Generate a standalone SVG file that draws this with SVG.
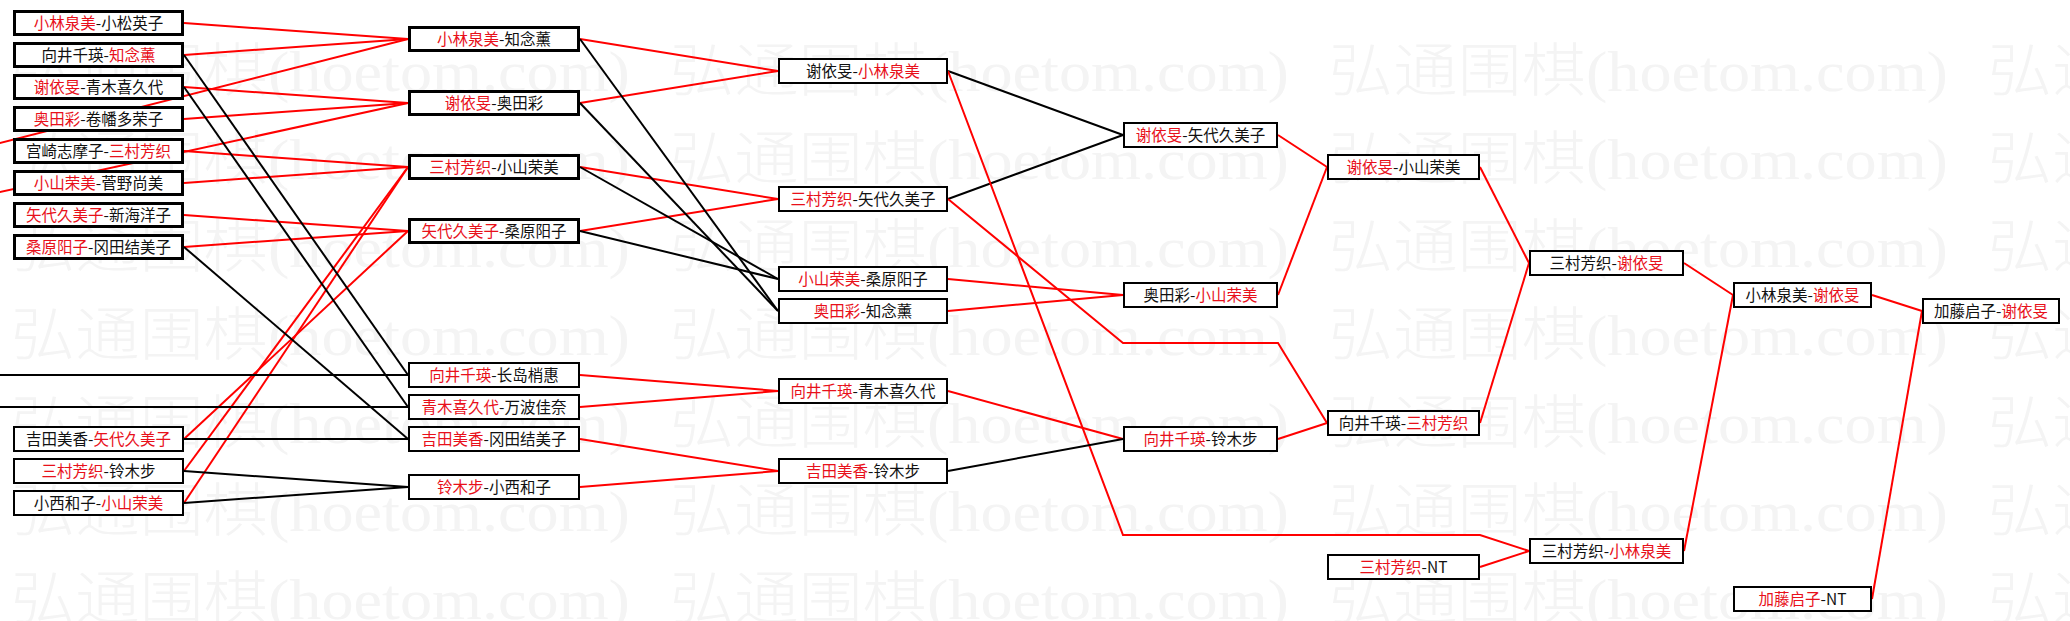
<svg xmlns="http://www.w3.org/2000/svg" xmlns:xlink="http://www.w3.org/1999/xlink" width="2070" height="621" viewBox="0 0 2070 621">
<style>
.r{stroke:#ff0000;stroke-width:2;fill:none}
.k{stroke:#000;stroke-width:2;fill:none}
.b3{fill:#fff;stroke:#000;stroke-width:3}
.b2{fill:#fff;stroke:#000;stroke-width:2}
.t{font-family:"Noto Sans CJK SC","Noto Sans CJK JP",sans-serif;font-size:15.5px;text-anchor:middle;fill:#111}
.rt{fill:#e8101a}
.wm{font-family:"Liberation Serif","Noto Sans CJK SC",serif;font-size:58px;font-weight:300;fill:#f4f4f4}
</style>
<defs>
<text id="wm" class="wm" x="0" y="0" textLength="619" lengthAdjust="spacingAndGlyphs">弘通围棋(hoetom.com)</text>
</defs>
<rect x="0" y="0" width="2070" height="621" fill="#fff"/>
<g id="watermark">
<use href="#wm" x="-648" y="91"/><use href="#wm" x="11" y="91"/><use href="#wm" x="670" y="91"/><use href="#wm" x="1329" y="91"/><use href="#wm" x="1988" y="91"/>
<use href="#wm" x="-648" y="179"/><use href="#wm" x="11" y="179"/><use href="#wm" x="670" y="179"/><use href="#wm" x="1329" y="179"/><use href="#wm" x="1988" y="179"/>
<use href="#wm" x="-648" y="267"/><use href="#wm" x="11" y="267"/><use href="#wm" x="670" y="267"/><use href="#wm" x="1329" y="267"/><use href="#wm" x="1988" y="267"/>
<use href="#wm" x="-648" y="355"/><use href="#wm" x="11" y="355"/><use href="#wm" x="670" y="355"/><use href="#wm" x="1329" y="355"/><use href="#wm" x="1988" y="355"/>
<use href="#wm" x="-648" y="443"/><use href="#wm" x="11" y="443"/><use href="#wm" x="670" y="443"/><use href="#wm" x="1329" y="443"/><use href="#wm" x="1988" y="443"/>
<use href="#wm" x="-648" y="531"/><use href="#wm" x="11" y="531"/><use href="#wm" x="670" y="531"/><use href="#wm" x="1329" y="531"/><use href="#wm" x="1988" y="531"/>
<use href="#wm" x="-648" y="619"/><use href="#wm" x="11" y="619"/><use href="#wm" x="670" y="619"/><use href="#wm" x="1329" y="619"/><use href="#wm" x="1988" y="619"/>
</g>
<g id="connectors">
<!-- col1 -> col2 -->
<line class="r" x1="184" y1="23" x2="408" y2="39"/>
<line class="r" x1="184" y1="55" x2="408" y2="39"/>
<line class="r" x1="184" y1="87" x2="408" y2="103"/>
<line class="r" x1="184" y1="119" x2="408" y2="103"/>
<line class="r" x1="184" y1="151" x2="408" y2="167"/>
<line class="r" x1="184" y1="183" x2="408" y2="167"/>
<line class="r" x1="184" y1="215" x2="408" y2="231"/>
<line class="r" x1="184" y1="247" x2="408" y2="231"/>
<line class="r" x1="-2" y1="143.5" x2="408" y2="39"/>
<line class="r" x1="-2" y1="192.5" x2="408" y2="103"/>
<line class="r" x1="184" y1="439" x2="408" y2="231"/>
<line class="r" x1="184" y1="471" x2="408" y2="167"/>
<line class="r" x1="184" y1="503" x2="408" y2="167"/>
<line class="k" x1="184" y1="55" x2="408" y2="375"/>
<line class="k" x1="184" y1="87" x2="408" y2="407"/>
<line class="k" x1="184" y1="247" x2="408" y2="439"/>
<line class="k" x1="-2" y1="375" x2="408" y2="375"/>
<line class="k" x1="-2" y1="407" x2="408" y2="407"/>
<line class="k" x1="184" y1="439" x2="408" y2="439"/>
<line class="k" x1="184" y1="471" x2="408" y2="487"/>
<line class="k" x1="184" y1="503" x2="408" y2="487"/>
<!-- col2 -> col3 -->
<line class="r" x1="580" y1="39" x2="778" y2="71"/>
<line class="r" x1="580" y1="103" x2="778" y2="71"/>
<line class="r" x1="580" y1="167" x2="778" y2="199"/>
<line class="r" x1="580" y1="231" x2="778" y2="199"/>
<line class="k" x1="580" y1="39" x2="778" y2="311"/>
<line class="k" x1="580" y1="103" x2="778" y2="311"/>
<line class="k" x1="580" y1="167" x2="778" y2="279"/>
<line class="k" x1="580" y1="231" x2="778" y2="279"/>
<line class="r" x1="580" y1="375" x2="778" y2="391"/>
<line class="r" x1="580" y1="407" x2="778" y2="391"/>
<line class="r" x1="580" y1="439" x2="778" y2="471"/>
<line class="r" x1="580" y1="487" x2="778" y2="471"/>
<!-- col3 -> col4 -->
<line class="k" x1="948" y1="71" x2="1123" y2="135"/>
<line class="k" x1="948" y1="199" x2="1123" y2="135"/>
<polyline class="r" points="948,71 1123,535 1480,535 1529,551"/>
<polyline class="r" points="948,199 1123,343 1278,343 1327,423"/>
<line class="r" x1="948" y1="279" x2="1123" y2="295"/>
<line class="r" x1="948" y1="311" x2="1123" y2="295"/>
<line class="r" x1="948" y1="391" x2="1123" y2="439"/>
<line class="k" x1="948" y1="471" x2="1123" y2="439"/>
<!-- col4 -> col5 -->
<line class="r" x1="1278" y1="135" x2="1327" y2="167"/>
<line class="r" x1="1278" y1="295" x2="1327" y2="167"/>
<line class="r" x1="1278" y1="439" x2="1327" y2="423"/>
<!-- col5 -> col6 -->
<line class="r" x1="1480" y1="167" x2="1529" y2="263"/>
<line class="r" x1="1480" y1="423" x2="1529" y2="263"/>
<line class="r" x1="1480" y1="567" x2="1529" y2="551"/>
<!-- col6 -> col7 -->
<line class="r" x1="1684" y1="263" x2="1733" y2="295"/>
<line class="r" x1="1684" y1="551" x2="1733" y2="295"/>
<!-- col7 -> col8 -->
<line class="r" x1="1872" y1="295" x2="1922" y2="311"/>
<line class="r" x1="1872" y1="599" x2="1922" y2="311"/>
</g>
<!-- column 1 -->
<g id="c1_1"><rect class="b3" x="14.5" y="11.5" width="168" height="23"/><text class="t" x="98.5" y="28.5"><tspan class="rt">小林泉美</tspan>-小松英子</text></g>
<g id="c1_2"><rect class="b3" x="14.5" y="43.5" width="168" height="23"/><text class="t" x="98.5" y="60.5">向井千瑛-<tspan class="rt">知念薰</tspan></text></g>
<g id="c1_3"><rect class="b3" x="14.5" y="75.5" width="168" height="23"/><text class="t" x="98.5" y="92.5"><tspan class="rt">谢依旻</tspan>-青木喜久代</text></g>
<g id="c1_4"><rect class="b3" x="14.5" y="107.5" width="168" height="23"/><text class="t" x="98.5" y="124.5"><tspan class="rt">奥田彩</tspan>-卷幡多荣子</text></g>
<g id="c1_5"><rect class="b3" x="14.5" y="139.5" width="168" height="23"/><text class="t" x="98.5" y="156.5">宫崎志摩子-<tspan class="rt">三村芳织</tspan></text></g>
<g id="c1_6"><rect class="b3" x="14.5" y="171.5" width="168" height="23"/><text class="t" x="98.5" y="188.5"><tspan class="rt">小山荣美</tspan>-菅野尚美</text></g>
<g id="c1_7"><rect class="b3" x="14.5" y="203.5" width="168" height="23"/><text class="t" x="98.5" y="220.5"><tspan class="rt">矢代久美子</tspan>-新海洋子</text></g>
<g id="c1_8"><rect class="b3" x="14.5" y="235.5" width="168" height="23"/><text class="t" x="98.5" y="252.5"><tspan class="rt">桑原阳子</tspan>-冈田结美子</text></g>
<g id="c1_9"><rect class="b2" x="14" y="427" width="169" height="24"/><text class="t" x="98.5" y="444.5">吉田美香-<tspan class="rt">矢代久美子</tspan></text></g>
<g id="c1_10"><rect class="b2" x="14" y="459" width="169" height="24"/><text class="t" x="98.5" y="476.5"><tspan class="rt">三村芳织</tspan>-铃木步</text></g>
<g id="c1_11"><rect class="b2" x="14" y="491" width="169" height="24"/><text class="t" x="98.5" y="508.5">小西和子-<tspan class="rt">小山荣美</tspan></text></g>
<!-- column 2 -->
<g id="c2_1"><rect class="b3" x="409.5" y="27.5" width="169" height="23"/><text class="t" x="494" y="44.5"><tspan class="rt">小林泉美</tspan>-知念薰</text></g>
<g id="c2_2"><rect class="b3" x="409.5" y="91.5" width="169" height="23"/><text class="t" x="494" y="108.5"><tspan class="rt">谢依旻</tspan>-奥田彩</text></g>
<g id="c2_3"><rect class="b3" x="409.5" y="155.5" width="169" height="23"/><text class="t" x="494" y="172.5"><tspan class="rt">三村芳织</tspan>-小山荣美</text></g>
<g id="c2_4"><rect class="b3" x="409.5" y="219.5" width="169" height="23"/><text class="t" x="494" y="236.5"><tspan class="rt">矢代久美子</tspan>-桑原阳子</text></g>
<g id="c2_5"><rect class="b2" x="409" y="363" width="170" height="24"/><text class="t" x="494" y="380.5"><tspan class="rt">向井千瑛</tspan>-长岛梢惠</text></g>
<g id="c2_6"><rect class="b2" x="409" y="395" width="170" height="24"/><text class="t" x="494" y="412.5"><tspan class="rt">青木喜久代</tspan>-万波佳奈</text></g>
<g id="c2_7"><rect class="b2" x="409" y="427" width="170" height="24"/><text class="t" x="494" y="444.5"><tspan class="rt">吉田美香</tspan>-冈田结美子</text></g>
<g id="c2_8"><rect class="b2" x="409" y="475" width="170" height="24"/><text class="t" x="494" y="492.5"><tspan class="rt">铃木步</tspan>-小西和子</text></g>
<!-- column 3 -->
<g id="c3_1"><rect class="b2" x="779" y="59" width="168" height="24"/><text class="t" x="863" y="76.5">谢依旻-<tspan class="rt">小林泉美</tspan></text></g>
<g id="c3_2"><rect class="b2" x="779" y="187" width="168" height="24"/><text class="t" x="863" y="204.5"><tspan class="rt">三村芳织</tspan>-矢代久美子</text></g>
<g id="c3_3"><rect class="b2" x="779" y="267" width="168" height="24"/><text class="t" x="863" y="284.5"><tspan class="rt">小山荣美</tspan>-桑原阳子</text></g>
<g id="c3_4"><rect class="b2" x="779" y="299" width="168" height="24"/><text class="t" x="863" y="316.5"><tspan class="rt">奥田彩</tspan>-知念薰</text></g>
<g id="c3_5"><rect class="b2" x="779" y="379" width="168" height="24"/><text class="t" x="863" y="396.5"><tspan class="rt">向井千瑛</tspan>-青木喜久代</text></g>
<g id="c3_6"><rect class="b2" x="779" y="459" width="168" height="24"/><text class="t" x="863" y="476.5"><tspan class="rt">吉田美香</tspan>-铃木步</text></g>
<!-- column 4 -->
<g id="c4_1"><rect class="b2" x="1124" y="123" width="153" height="24"/><text class="t" x="1200.5" y="140.5"><tspan class="rt">谢依旻</tspan>-矢代久美子</text></g>
<g id="c4_2"><rect class="b2" x="1124" y="283" width="153" height="24"/><text class="t" x="1200.5" y="300.5">奥田彩-<tspan class="rt">小山荣美</tspan></text></g>
<g id="c4_3"><rect class="b2" x="1124" y="427" width="153" height="24"/><text class="t" x="1200.5" y="444.5"><tspan class="rt">向井千瑛</tspan>-铃木步</text></g>
<!-- column 5 -->
<g id="c5_1"><rect class="b2" x="1328" y="155" width="151" height="24"/><text class="t" x="1403.5" y="172.5"><tspan class="rt">谢依旻</tspan>-小山荣美</text></g>
<g id="c5_2"><rect class="b2" x="1328" y="411" width="151" height="24"/><text class="t" x="1403.5" y="428.5">向井千瑛-<tspan class="rt">三村芳织</tspan></text></g>
<g id="c5_3"><rect class="b2" x="1328" y="555" width="151" height="24"/><text class="t" x="1403.5" y="572.5"><tspan class="rt">三村芳织</tspan>-NT</text></g>
<!-- column 6 -->
<g id="c6_1"><rect class="b2" x="1530" y="251" width="153" height="24"/><text class="t" x="1606.5" y="268.5">三村芳织-<tspan class="rt">谢依旻</tspan></text></g>
<g id="c6_2"><rect class="b2" x="1530" y="539" width="153" height="24"/><text class="t" x="1606.5" y="556.5">三村芳织-<tspan class="rt">小林泉美</tspan></text></g>
<!-- column 7 -->
<g id="c7_1"><rect class="b2" x="1734" y="283" width="137" height="24"/><text class="t" x="1802.5" y="300.5">小林泉美-<tspan class="rt">谢依旻</tspan></text></g>
<g id="c7_2"><rect class="b2" x="1734" y="587" width="137" height="24"/><text class="t" x="1802.5" y="604.5"><tspan class="rt">加藤启子</tspan>-NT</text></g>
<!-- column 8 -->
<g id="c8_1"><rect class="b2" x="1923" y="299" width="136" height="24"/><text class="t" x="1991" y="316.5">加藤启子-<tspan class="rt">谢依旻</tspan></text></g>
</svg>
